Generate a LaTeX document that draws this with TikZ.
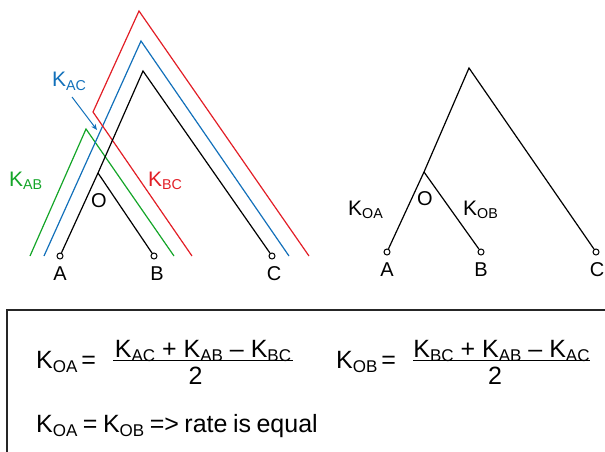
\documentclass[tikz,border=0pt]{standalone}
\usepackage{fontspec}
\setmainfont{Liberation Sans}
\usepackage{graphicx}
\usetikzlibrary{arrows.meta}
\definecolor{kred}{RGB}{226,30,38}
\definecolor{kblue}{RGB}{18,112,186}
\definecolor{kgreen}{RGB}{20,165,40}
\newcommand\KS[1]{K\raisebox{-0.16em}{\scalebox{0.68}{#1}}}
\begin{document}
\begin{tikzpicture}[x=1pt,y=-1pt,
  leaf/.style={circle,draw,fill=white,inner sep=0pt,minimum size=6pt,line width=1pt},
  br/.style={line width=1.2pt},
  lbl/.style={inner sep=0pt,font=\fontsize{20}{24}\selectfont},
  klbl/.style={inner sep=0pt,anchor=base west,font=\fontsize{21}{25}\selectfont},
  eq/.style={inner sep=0pt,anchor=base west,font=\fontsize{25}{30}\selectfont}]
\useasboundingbox (0,0) rectangle (605,452);
% coloured paths
\draw[br,kgreen] (30,256) -- (86,129) -- (174,256);
\draw[br,kblue] (44,256) -- (141,41) -- (289,256);
\draw[br,kred] (192,256) -- (93,112) -- (139,11) -- (309,256);
% left tree
\node[leaf] (lA) at (60,256) {};
\node[leaf] (lB) at (154,256) {};
\node[leaf] (lC) at (272,256) {};
\coordinate (lO) at (98,173);
\coordinate (lT) at (143,71);
\draw[br] (lA) -- (lO) -- (lT) -- (lC);
\draw[br] (lO) -- (lB);
\node[lbl] (tA) at (60,274) {A};
\node[lbl] (tB) at (157,274) {B};
\node[lbl] (tC) at (274,274) {C};
\node[lbl] (tO) at (99,201) {O};
\node[klbl,text=kblue] (kac) at (52,87) {\KS{AC}};
\node[klbl,text=kgreen] (kab) at (9,186) {\KS{AB}};
\node[klbl,text=kred] (kbc) at (148,186) {\KS{BC}};
\coordinate (arS) at (72,97);
\coordinate (arE) at (97,130);
\draw[kblue,line width=1pt,-{Stealth[length=6pt,width=5pt]}] (arS) -- (arE);
% right tree
\node[leaf] (rA) at (387,252) {};
\node[leaf] (rB) at (481,252) {};
\node[leaf] (rC) at (596,252) {};
\coordinate (rO) at (424,172);
\coordinate (rT) at (469,68);
\draw[br] (rA) -- (rO) -- (rT) -- (rC);
\draw[br] (rO) -- (rB);
\node[lbl] (sA) at (387,270) {A};
\node[lbl] (sB) at (481,270) {B};
\node[lbl] (sC) at (597,270) {C};
\node[lbl] (sO) at (425,199) {O};
\node[klbl] (koaT) at (348,215) {\KS{OA}};
\node[klbl] (kobT) at (463,215) {\KS{OB}};
% box
\draw[line width=1.2pt,black!85] (7,470) -- (7,310) -- (620,310);
% formulas
\node[eq] (koa) at (36,368) {\KS{OA}\hspace{0.16em}=};
\node[eq,anchor=base] (n1) at (203,357) {\KS{AC} + \KS{AB} – \KS{BC}};
\draw[line width=1pt] (113,360) -- (293,360);
\node[eq,anchor=base] (d1) at (195.5,384) {2};
\node[eq] (kob) at (336,368) {\KS{OB}\hspace{0.16em}=};
\node[eq,anchor=base] (n2) at (501.5,357) {\KS{BC} + \KS{AB} – \KS{AC}};
\draw[line width=1pt] (413,360) -- (590,360);
\node[eq,anchor=base] (d2) at (495,384) {2};
\node[eq] (l3) at (36,432) {\spaceskip=0.22em\relax\KS{OA} = \KS{OB} => rate is equal};
\end{tikzpicture}
\end{document}
